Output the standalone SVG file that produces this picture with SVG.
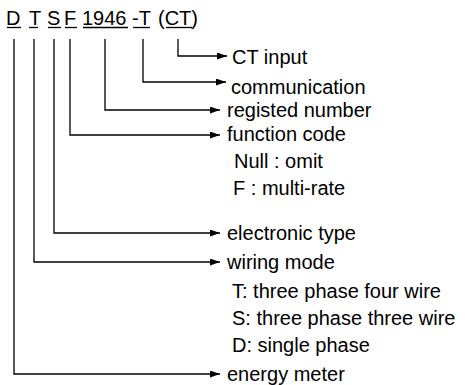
<svg xmlns="http://www.w3.org/2000/svg" width="466" height="385" viewBox="0 0 466 385">
<style>
text{font-family:"Liberation Sans",Arial,sans-serif;font-size:20px;fill:#000}
.u{stroke:#000;stroke-width:1.3}
.c{fill:none;stroke:#000;stroke-width:1.3}
</style>
<defs>
<marker id="ah" markerUnits="userSpaceOnUse" markerWidth="10" markerHeight="8" refX="10" refY="3.5" orient="auto">
<path d="M0,0 L10,3.5 L0,7 Z" fill="#000"/>
</marker>
</defs>
<rect width="466" height="385" fill="#fff"/>
<g id="code">
<text x="6" y="25">D</text>
<text x="29" y="25">T</text>
<text x="47" y="25">S</text>
<text x="64" y="25">F</text>
<text x="82" y="25">1946</text>
<text x="132" y="25">-T</text>
<text x="158" y="25">(CT)</text>
<line class="u" x1="7" y1="27.5" x2="21" y2="27.5"/>
<line class="u" x1="29" y1="27.5" x2="38" y2="27.5"/>
<line class="u" x1="48" y1="27.5" x2="61" y2="27.5"/>
<line class="u" x1="65" y1="27.5" x2="77" y2="27.5"/>
<line class="u" x1="83" y1="27.5" x2="128" y2="27.5"/>
<line class="u" x1="133" y1="27.5" x2="150" y2="27.5"/>
<line class="u" x1="166" y1="27.5" x2="192" y2="27.5"/>
</g>
<g id="connectors">
<path class="c" d="M178,39 V56 H227" marker-end="url(#ah)"/>
<path class="c" d="M143,39 V82 H226" marker-end="url(#ah)"/>
<path class="c" d="M105,39 V110 H220" marker-end="url(#ah)"/>
<path class="c" d="M70,39 V135 H220" marker-end="url(#ah)"/>
<path class="c" d="M54,39 V233 H220" marker-end="url(#ah)"/>
<path class="c" d="M34,39 V262 H220" marker-end="url(#ah)"/>
<path class="c" d="M14,39 V374 H220" marker-end="url(#ah)"/>
</g>
<g id="ct-input"><text x="232" y="64">CT input</text></g>
<g id="communication"><text x="231" y="94">communication</text></g>
<g id="registed-number"><text x="227" y="117">registed number</text></g>
<g id="function-code">
<text x="227" y="141">function code</text>
<text x="234" y="168">Null : omit</text>
<text x="233" y="195">F  : multi-rate</text>
</g>
<g id="electronic-type"><text x="227" y="240">electronic type</text></g>
<g id="wiring-mode">
<text x="227" y="269">wiring mode</text>
<text x="232" y="298">T: three phase four wire</text>
<text x="232" y="325">S: three phase three wire</text>
<text x="232" y="352">D: single phase</text>
</g>
<g id="energy-meter"><text x="227" y="381">energy meter</text></g>
</svg>
